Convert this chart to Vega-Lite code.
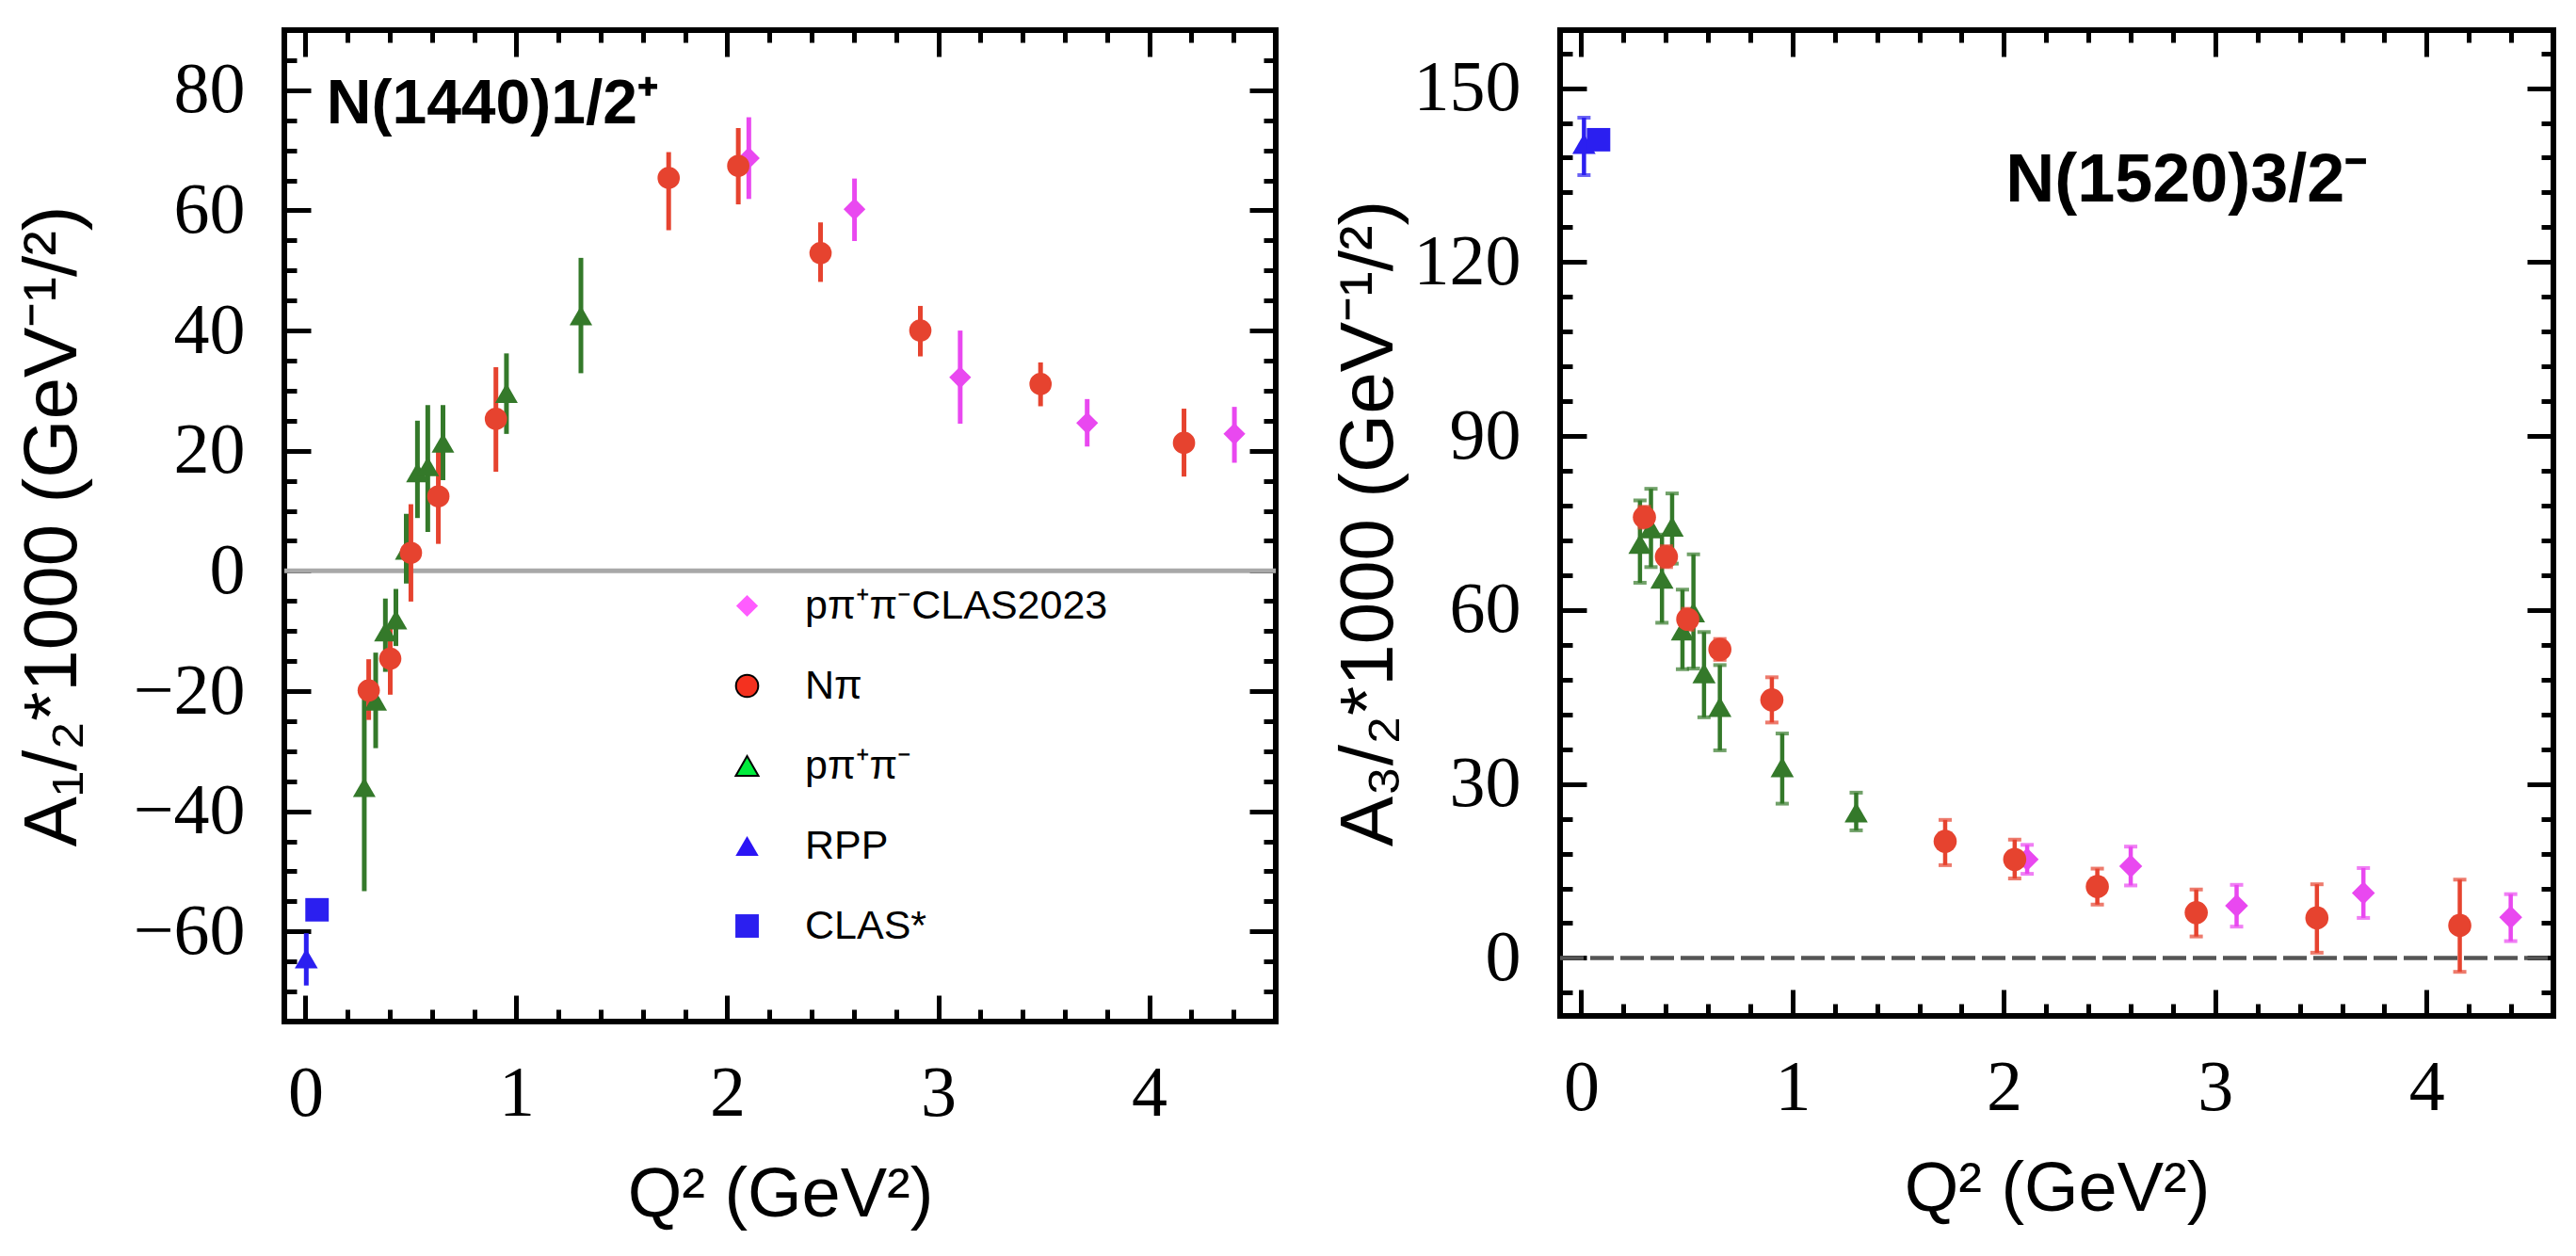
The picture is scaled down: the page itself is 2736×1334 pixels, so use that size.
{
  "$schema": "https://vega.github.io/schema/vega-lite/v6.json",
  "background": "white",
  "padding": {"left": 13, "top": 26, "right": 10, "bottom": 10},
  "config": {
    "view": {"stroke": "black", "strokeWidth": 6},
    "axis": {
      "domain": false,
      "grid": false,
      "tickColor": "black",
      "tickWidth": 5,
      "labelFont": "Liberation Serif",
      "labelFontSize": 76,
      "labelColor": "black",
      "titleFont": "Liberation Sans",
      "titleFontWeight": "normal",
      "titleColor": "black"
    },
    "legend": {
      "padding": 0,
      "symbolSize": 780,
      "symbolStrokeWidth": 2,
      "symbolOpacity": 1,
      "labelFont": "Liberation Sans",
      "labelFontSize": 43,
      "labelColor": "black",
      "labelOffset": 40,
      "labelLimit": 800,
      "rowPadding": 41
    }
  },
  "datasets": {
    "n1440": [
      {"series": "pπ⁺π⁻", "q2": 0.279, "a": -36.0, "lo": -53.3, "hi": -18.7},
      {"series": "pπ⁺π⁻", "q2": 0.333, "a": -21.6, "lo": -29.5, "hi": -13.6},
      {"series": "pπ⁺π⁻", "q2": 0.379, "a": -10.1, "lo": -16.8, "hi": -4.6},
      {"series": "pπ⁺π⁻", "q2": 0.429, "a": -8.1, "lo": -12.5, "hi": -3.0},
      {"series": "pπ⁺π⁻", "q2": 0.478, "a": 3.5, "lo": -2.1, "hi": 9.5},
      {"series": "pπ⁺π⁻", "q2": 0.531, "a": 16.4, "lo": 8.8, "hi": 25.0},
      {"series": "pπ⁺π⁻", "q2": 0.580, "a": 17.4, "lo": 6.5, "hi": 27.6},
      {"series": "pπ⁺π⁻", "q2": 0.652, "a": 21.3, "lo": 15.1, "hi": 27.6},
      {"series": "pπ⁺π⁻", "q2": 0.953, "a": 29.6, "lo": 22.8, "hi": 36.2},
      {"series": "pπ⁺π⁻", "q2": 1.306, "a": 42.5, "lo": 32.9, "hi": 52.1},
      {"series": "pπ⁺π⁻CLAS2023", "q2": 2.102, "a": 68.7, "lo": 61.9, "hi": 75.5},
      {"series": "pπ⁺π⁻CLAS2023", "q2": 2.603, "a": 60.2, "lo": 54.9, "hi": 65.3},
      {"series": "pπ⁺π⁻CLAS2023", "q2": 3.104, "a": 32.2, "lo": 24.5, "hi": 40.0},
      {"series": "pπ⁺π⁻CLAS2023", "q2": 3.706, "a": 24.6, "lo": 20.7, "hi": 28.6},
      {"series": "pπ⁺π⁻CLAS2023", "q2": 4.404, "a": 22.8, "lo": 18.0, "hi": 27.3},
      {"series": "RPP", "q2": 0.004, "a": -64.5, "lo": -69.0, "hi": -60.3},
      {"series": "CLAS*", "q2": 0.055, "a": -56.4, "lo": null, "hi": null},
      {"series": "Nπ", "q2": 0.300, "a": -19.9, "lo": -24.8, "hi": -14.7},
      {"series": "Nπ", "q2": 0.402, "a": -14.6, "lo": -20.6, "hi": -8.8},
      {"series": "Nπ", "q2": 0.500, "a": 3.0, "lo": -5.1, "hi": 11.1},
      {"series": "Nπ", "q2": 0.630, "a": 12.4, "lo": 4.5, "hi": 20.0},
      {"series": "Nπ", "q2": 0.903, "a": 25.3, "lo": 16.5, "hi": 33.9},
      {"series": "Nπ", "q2": 1.722, "a": 65.4, "lo": 56.7, "hi": 69.7},
      {"series": "Nπ", "q2": 2.052, "a": 67.4, "lo": 61.0, "hi": 73.7},
      {"series": "Nπ", "q2": 2.442, "a": 52.9, "lo": 48.1, "hi": 58.0},
      {"series": "Nπ", "q2": 2.915, "a": 40.0, "lo": 35.7, "hi": 44.1},
      {"series": "Nπ", "q2": 3.485, "a": 31.1, "lo": 27.4, "hi": 34.7},
      {"series": "Nπ", "q2": 4.165, "a": 21.3, "lo": 15.7, "hi": 27.0}
    ],
    "n1520": [
      {"series": "pπ⁺π⁻", "q2": 0.278, "a": 71.4, "lo": 64.7, "hi": 78.9},
      {"series": "pπ⁺π⁻", "q2": 0.330, "a": 74.1, "lo": 67.4, "hi": 80.9},
      {"series": "pπ⁺π⁻", "q2": 0.382, "a": 65.4, "lo": 57.8, "hi": 73.0},
      {"series": "pπ⁺π⁻", "q2": 0.430, "a": 74.4, "lo": 68.0, "hi": 80.1},
      {"series": "pπ⁺π⁻", "q2": 0.479, "a": 56.5, "lo": 49.8, "hi": 63.5},
      {"series": "pπ⁺π⁻", "q2": 0.531, "a": 59.6, "lo": 49.9, "hi": 69.6},
      {"series": "pπ⁺π⁻", "q2": 0.581, "a": 49.1, "lo": 41.5, "hi": 56.2},
      {"series": "pπ⁺π⁻", "q2": 0.656, "a": 43.3, "lo": 35.8, "hi": 50.5},
      {"series": "pπ⁺π⁻", "q2": 0.951, "a": 32.9, "lo": 26.6, "hi": 38.7},
      {"series": "pπ⁺π⁻", "q2": 1.301, "a": 25.1, "lo": 22.0, "hi": 28.5},
      {"series": "pπ⁺π⁻CLAS2023", "q2": 2.110, "a": 17.0, "lo": 14.5, "hi": 19.5},
      {"series": "pπ⁺π⁻CLAS2023", "q2": 2.600, "a": 15.8, "lo": 12.5, "hi": 19.2},
      {"series": "pπ⁺π⁻CLAS2023", "q2": 3.101, "a": 9.0, "lo": 5.4, "hi": 12.6},
      {"series": "pπ⁺π⁻CLAS2023", "q2": 3.701, "a": 11.2, "lo": 6.9, "hi": 15.5},
      {"series": "pπ⁺π⁻CLAS2023", "q2": 4.398, "a": 7.0, "lo": 2.9, "hi": 11.0},
      {"series": "RPP", "q2": 0.013, "a": 140.4, "lo": 135.0, "hi": 144.9},
      {"series": "CLAS*", "q2": 0.082, "a": 141.1, "lo": null, "hi": null},
      {"series": "Nπ", "q2": 0.299, "a": 76.0, "lo": 74.2, "hi": 77.8},
      {"series": "Nπ", "q2": 0.403, "a": 69.2, "lo": 67.4, "hi": 71.0},
      {"series": "Nπ", "q2": 0.504, "a": 58.4, "lo": 56.6, "hi": 60.2},
      {"series": "Nπ", "q2": 0.656, "a": 53.2, "lo": 51.4, "hi": 55.0},
      {"series": "Nπ", "q2": 0.902, "a": 44.5, "lo": 40.6, "hi": 48.4},
      {"series": "Nπ", "q2": 1.722, "a": 20.1, "lo": 16.0, "hi": 23.8},
      {"series": "Nπ", "q2": 2.051, "a": 17.0, "lo": 13.7, "hi": 20.4},
      {"series": "Nπ", "q2": 2.442, "a": 12.3, "lo": 9.2, "hi": 15.4},
      {"series": "Nπ", "q2": 2.910, "a": 7.8, "lo": 3.7, "hi": 11.8},
      {"series": "Nπ", "q2": 3.481, "a": 6.9, "lo": 0.9, "hi": 12.7},
      {"series": "Nπ", "q2": 4.157, "a": 5.6, "lo": -2.4, "hi": 13.5}
    ]
  },
  "spacing": 50,
  "resolve": {
    "scale": {"color": "independent", "shape": "independent", "size": "independent", "fill": "independent", "stroke": "independent"},
    "legend": {"color": "independent", "shape": "independent", "size": "independent", "fill": "independent", "stroke": "independent"}
  },
  "hconcat": [
    {
      "width": 1053,
      "height": 1053,
      "data": {"name": "n1440"},
      "resolve": {"axis": {"x": "independent", "y": "independent"}},
      "layer": [
        {
          "mark": {"type": "point", "size": 0, "opacity": 1},
          "encoding": {
            "x": {"field": "q2", "type": "quantitative", "scale": {"domain": [-0.1, 4.6], "nice": false, "zero": false}, "axis": null},
            "y": {"field": "a", "type": "quantitative", "scale": {"domain": [-75, 90], "nice": false, "zero": false}, "axis": null},
            "fill": {"field": "series", "type": "nominal",
              "scale": {"domain": ["pπ⁺π⁻CLAS2023", "Nπ", "pπ⁺π⁻", "RPP", "CLAS*"], "range": ["#ff5cff", "#f4311f", "#00ec3c", "#2b14f5", "#2b1ff0"]},
              "legend": {"orient": "none", "legendX": 470, "legendY": 590, "title": null}},
            "stroke": {"field": "series", "type": "nominal",
              "scale": {"domain": ["pπ⁺π⁻CLAS2023", "Nπ", "pπ⁺π⁻", "RPP", "CLAS*"], "range": ["transparent", "black", "black", "transparent", "transparent"]},
              "legend": {"orient": "none", "legendX": 470, "legendY": 590, "title": null}},
            "shape": {"field": "series", "type": "nominal",
              "scale": {"domain": ["pπ⁺π⁻CLAS2023", "Nπ", "pπ⁺π⁻", "RPP", "CLAS*"], "range": ["diamond", "circle", "triangle-up", "triangle-up", "square"]},
              "legend": {"orient": "none", "legendX": 470, "legendY": 590, "title": null}}
          }
        },
        {
          "data": {"values": [{}]},
          "mark": {"type": "rule", "color": "#a8a8a8", "strokeWidth": 5},
          "encoding": {
            "x": {"datum": -0.1, "type": "quantitative", "scale": {"domain": [-0.1, 4.6], "nice": false, "zero": false},
              "axis": {"orient": "top", "values": [0.2, 0.4, 0.6, 0.8, 1.2, 1.4, 1.6, 1.8, 2.2, 2.4, 2.6, 2.8, 3.2, 3.4, 3.6, 3.8, 4.2, 4.4], "tickSize": -13, "labels": false, "title": null}},
            "x2": {"datum": 4.6},
            "y": {"datum": 0, "type": "quantitative", "scale": {"domain": [-75, 90], "nice": false, "zero": false},
              "axis": {"orient": "right", "values": [-70, -65, -55, -50, -45, -35, -30, -25, -15, -10, -5, 5, 10, 15, 25, 30, 35, 45, 50, 55, 65, 70, 75, 85], "tickSize": -13, "labels": false, "title": null}}
          }
        },
        {
          "transform": [{"filter": "datum.lo != null"}],
          "mark": {"type": "rule", "strokeWidth": 5},
          "encoding": {
            "x": {"field": "q2", "type": "quantitative", "scale": {"domain": [-0.1, 4.6], "nice": false, "zero": false},
              "axis": {"orient": "bottom", "values": [0, 1, 2, 3, 4], "format": "d", "tickSize": -28, "labelPadding": 67, "title": "Q² (GeV²)", "titleFontSize": 74, "titlePadding": 34}},
            "y": {"field": "lo", "type": "quantitative", "scale": {"domain": [-75, 90], "nice": false, "zero": false},
              "axis": {"orient": "left", "values": [-60, -40, -20, 0, 20, 40, 60, 80], "format": "d", "tickSize": -28, "labelPadding": 70, "title": "A₁/₂*1000 (GeV⁻¹/²)", "titleFontSize": 80, "titlePadding": 44}},
            "y2": {"field": "hi"},
            "color": {"field": "series", "type": "nominal", "legend": null,
              "scale": {"domain": ["pπ⁺π⁻CLAS2023", "Nπ", "pπ⁺π⁻", "RPP", "CLAS*"], "range": ["#e948f0", "#e6432f", "#34792a", "#2b1ff0", "#2b1ff0"]}}
          }
        },
        {
          "mark": {"type": "point", "filled": true, "opacity": 1},
          "encoding": {
            "x": {"field": "q2", "type": "quantitative", "scale": {"domain": [-0.1, 4.6], "nice": false, "zero": false},
              "axis": {"orient": "top", "values": [0, 1, 2, 3, 4], "tickSize": -28, "labels": false, "title": null}},
            "y": {"field": "a", "type": "quantitative", "scale": {"domain": [-75, 90], "nice": false, "zero": false},
              "axis": {"orient": "right", "values": [-60, -40, -20, 0, 20, 40, 60, 80], "tickSize": -28, "labels": false, "title": null}},
            "color": {"field": "series", "type": "nominal", "legend": null,
              "scale": {"domain": ["pπ⁺π⁻CLAS2023", "Nπ", "pπ⁺π⁻", "RPP", "CLAS*"], "range": ["#e948f0", "#e6432f", "#34792a", "#2b1ff0", "#2b1ff0"]}},
            "shape": {"field": "series", "type": "nominal", "legend": null,
              "scale": {"domain": ["pπ⁺π⁻CLAS2023", "Nπ", "pπ⁺π⁻", "RPP", "CLAS*"], "range": ["diamond", "circle", "triangle-up", "triangle-up", "square"]}},
            "size": {"field": "series", "type": "nominal", "legend": null,
              "scale": {"domain": ["pπ⁺π⁻CLAS2023", "Nπ", "pπ⁺π⁻", "RPP", "CLAS*"], "range": [540, 620, 760, 760, 680]}}
          }
        },
        {
          "data": {"values": [{}]},
          "mark": {"type": "text", "text": "N(1440)1/2⁺", "font": "Liberation Sans", "fontWeight": "bold", "fontSize": 66, "align": "left", "baseline": "alphabetic", "color": "black"},
          "encoding": {
            "x": {"datum": 0.1, "type": "quantitative", "scale": {"domain": [-0.1, 4.6], "nice": false, "zero": false},
              "axis": {"orient": "bottom", "values": [0.2, 0.4, 0.6, 0.8, 1.2, 1.4, 1.6, 1.8, 2.2, 2.4, 2.6, 2.8, 3.2, 3.4, 3.6, 3.8, 4.2, 4.4], "tickSize": -13, "labels": false, "title": null}},
            "y": {"datum": 74.5, "type": "quantitative", "scale": {"domain": [-75, 90], "nice": false, "zero": false},
              "axis": {"orient": "left", "values": [-70, -65, -55, -50, -45, -35, -30, -25, -15, -10, -5, 5, 10, 15, 25, 30, 35, 45, 50, 55, 65, 70, 75, 85], "tickSize": -13, "labels": false, "title": null}}
          }
        }
      ]
    },
    {
      "width": 1055,
      "height": 1047,
      "data": {"name": "n1520"},
      "resolve": {"axis": {"x": "independent", "y": "independent"}},
      "layer": [
        {
          "data": {"values": [{}]},
          "mark": {"type": "rule", "color": "#555555", "strokeWidth": 4.5, "strokeDash": [25, 7]},
          "encoding": {
            "x": {"datum": -0.1, "type": "quantitative", "scale": {"domain": [-0.1, 4.6], "nice": false, "zero": false},
              "axis": {"orient": "top", "values": [0.2, 0.4, 0.6, 0.8, 1.2, 1.4, 1.6, 1.8, 2.2, 2.4, 2.6, 2.8, 3.2, 3.4, 3.6, 3.8, 4.2, 4.4], "tickSize": -13, "labels": false, "title": null}},
            "x2": {"datum": 4.6},
            "y": {"datum": 0, "type": "quantitative", "scale": {"domain": [-10, 160], "nice": false, "zero": false},
              "axis": {"orient": "right", "values": [-6, 6, 12, 18, 24, 36, 42, 48, 54, 66, 72, 78, 84, 96, 102, 108, 114, 126, 132, 138, 144, 156], "tickSize": -13, "labels": false, "title": null}}
          }
        },
        {
          "transform": [{"filter": "datum.lo != null"}],
          "mark": {"type": "rule", "strokeWidth": 4.5},
          "encoding": {
            "x": {"field": "q2", "type": "quantitative", "scale": {"domain": [-0.1, 4.6], "nice": false, "zero": false},
              "axis": {"orient": "bottom", "values": [0, 1, 2, 3, 4], "format": "d", "tickSize": -28, "labelPadding": 67, "title": "Q² (GeV²)", "titleFontSize": 74, "titlePadding": 34}},
            "y": {"field": "lo", "type": "quantitative", "scale": {"domain": [-10, 160], "nice": false, "zero": false},
              "axis": {"orient": "left", "values": [0, 30, 60, 90, 120, 150], "format": "d", "tickSize": -28, "labelPadding": 70, "title": "A₃/₂*1000 (GeV⁻¹/²)", "titleFontSize": 80, "titlePadding": 6}},
            "y2": {"field": "hi"},
            "color": {"field": "series", "type": "nominal", "legend": null,
              "scale": {"domain": ["pπ⁺π⁻CLAS2023", "Nπ", "pπ⁺π⁻", "RPP", "CLAS*"], "range": ["#e948f0", "#e6432f", "#34792a", "#2b1ff0", "#2b1ff0"]}}
          }
        },
        {
          "transform": [{"filter": "datum.lo != null"}],
          "mark": {"type": "tick", "orient": "horizontal", "size": 14, "thickness": 4},
          "encoding": {
            "x": {"field": "q2", "type": "quantitative", "scale": {"domain": [-0.1, 4.6], "nice": false, "zero": false},
              "axis": {"orient": "bottom", "values": [0.2, 0.4, 0.6, 0.8, 1.2, 1.4, 1.6, 1.8, 2.2, 2.4, 2.6, 2.8, 3.2, 3.4, 3.6, 3.8, 4.2, 4.4], "tickSize": -13, "labels": false, "title": null}},
            "y": {"field": "lo", "type": "quantitative", "scale": {"domain": [-10, 160], "nice": false, "zero": false},
              "axis": {"orient": "left", "values": [-6, 6, 12, 18, 24, 36, 42, 48, 54, 66, 72, 78, 84, 96, 102, 108, 114, 126, 132, 138, 144, 156], "tickSize": -13, "labels": false, "title": null}},
            "color": {"field": "series", "type": "nominal", "legend": null,
              "scale": {"domain": ["pπ⁺π⁻CLAS2023", "Nπ", "pπ⁺π⁻", "RPP", "CLAS*"], "range": ["#e948f0", "#e6432f", "#34792a", "#2b1ff0", "#2b1ff0"]}}
          }
        },
        {
          "transform": [{"filter": "datum.hi != null"}],
          "mark": {"type": "tick", "orient": "horizontal", "size": 14, "thickness": 4},
          "encoding": {
            "x": {"field": "q2", "type": "quantitative", "scale": {"domain": [-0.1, 4.6], "nice": false, "zero": false}, "axis": null},
            "y": {"field": "hi", "type": "quantitative", "scale": {"domain": [-10, 160], "nice": false, "zero": false}, "axis": null},
            "color": {"field": "series", "type": "nominal", "legend": null,
              "scale": {"domain": ["pπ⁺π⁻CLAS2023", "Nπ", "pπ⁺π⁻", "RPP", "CLAS*"], "range": ["#e948f0", "#e6432f", "#34792a", "#2b1ff0", "#2b1ff0"]}}
          }
        },
        {
          "mark": {"type": "point", "filled": true, "opacity": 1},
          "encoding": {
            "x": {"field": "q2", "type": "quantitative", "scale": {"domain": [-0.1, 4.6], "nice": false, "zero": false},
              "axis": {"orient": "top", "values": [0, 1, 2, 3, 4], "tickSize": -28, "labels": false, "title": null}},
            "y": {"field": "a", "type": "quantitative", "scale": {"domain": [-10, 160], "nice": false, "zero": false},
              "axis": {"orient": "right", "values": [0, 30, 60, 90, 120, 150], "tickSize": -28, "labels": false, "title": null}},
            "color": {"field": "series", "type": "nominal", "legend": null,
              "scale": {"domain": ["pπ⁺π⁻CLAS2023", "Nπ", "pπ⁺π⁻", "RPP", "CLAS*"], "range": ["#e948f0", "#e6432f", "#34792a", "#2b1ff0", "#2b1ff0"]}},
            "shape": {"field": "series", "type": "nominal", "legend": null,
              "scale": {"domain": ["pπ⁺π⁻CLAS2023", "Nπ", "pπ⁺π⁻", "RPP", "CLAS*"], "range": ["diamond", "circle", "triangle-up", "triangle-up", "square"]}},
            "size": {"field": "series", "type": "nominal", "legend": null,
              "scale": {"domain": ["pπ⁺π⁻CLAS2023", "Nπ", "pπ⁺π⁻", "RPP", "CLAS*"], "range": [600, 620, 760, 760, 680]}}
          }
        },
        {
          "data": {"values": [{}]},
          "mark": {"type": "text", "text": "N(1520)3/2⁻", "font": "Liberation Sans", "fontWeight": "bold", "fontSize": 72, "align": "left", "baseline": "alphabetic", "color": "black"},
          "encoding": {
            "x": {"datum": 2.008, "type": "quantitative", "scale": {"domain": [-0.1, 4.6], "nice": false, "zero": false}, "axis": null},
            "y": {"datum": 130.4, "type": "quantitative", "scale": {"domain": [-10, 160], "nice": false, "zero": false}, "axis": null}
          }
        }
      ]
    }
  ]
}
